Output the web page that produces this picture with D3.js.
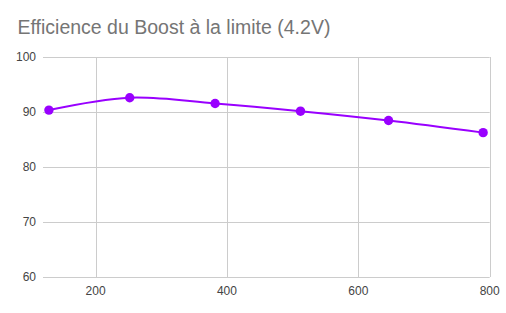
<!DOCTYPE html>
<html><head><meta charset="utf-8">
<script src="https://cdn.jsdelivr.net/npm/d3@7"></script>
<style>body{margin:0;background:#fff}svg{display:block}</style>
</head><body>
<script>
const title = "Efficience du Boost à la limite (4.2V)";
const xValues = [129, 252, 382, 512, 646, 790];
const yValues = [90.35, 92.6, 91.55, 90.15, 88.45, 86.25];
const xTicks = [200, 400, 600, 800];
const yTicks = [60, 70, 80, 90, 100];

const W = 506, H = 313;
const FONT = "Arial, 'Liberation Sans', sans-serif";
const m = {left: 43, right: 16.3, top: 57, bottom: 36};
const svg = d3.select("body").append("svg").attr("width", W).attr("height", H);
svg.append("rect").attr("width", W).attr("height", H).attr("fill", "#fff");

const x = d3.scaleLinear().domain([120, 800]).range([m.left, W - m.right]);
const y = d3.scaleLinear().domain([60, 100]).range([H - m.bottom, m.top]);

svg.append("text").attr("x", 17.5).attr("y", 34).text(title)
  .attr("font-family", FONT).attr("font-size", 19.5).attr("fill", "#757575");

const g = svg.append("g");
g.selectAll(".hg").data(yTicks).join("line")
  .attr("x1", m.left).attr("x2", W - m.right)
  .attr("y1", d => Math.round(y(d)) + 0.5).attr("y2", d => Math.round(y(d)) + 0.5)
  .attr("stroke", "#cccccc").attr("stroke-width", 1);
g.selectAll(".vg").data(xTicks).join("line")
  .attr("y1", m.top).attr("y2", H - m.bottom)
  .attr("x1", d => Math.round(x(d)) + 0.5).attr("x2", d => Math.round(x(d)) + 0.5)
  .attr("stroke", "#cccccc").attr("stroke-width", 1);

g.selectAll(".yl").data(yTicks).join("text")
  .attr("x", 36).attr("y", d => y(d) + 4.3).attr("text-anchor", "end")
  .attr("font-family", FONT).attr("font-size", 12).attr("fill", "#444")
  .text(d => d);
g.selectAll(".xl").data(xTicks).join("text")
  .attr("x", d => x(d)).attr("y", H - m.bottom + 17.5).attr("text-anchor", "middle")
  .attr("font-family", FONT).attr("font-size", 12).attr("fill", "#444")
  .text(d => d);

const pts = xValues.map((v, i) => [v, yValues[i]]);
const line = d3.line().x(d => x(d[0])).y(d => y(d[1])).curve(d3.curveCatmullRom.alpha(0.5));
svg.append("path").attr("d", line(pts)).attr("fill", "none")
  .attr("stroke", "#9900ff").attr("stroke-width", 2);
svg.selectAll(".pt").data(pts).join("circle")
  .attr("cx", d => x(d[0])).attr("cy", d => y(d[1])).attr("r", 4.7).attr("fill", "#9900ff");
</script>
</body></html>
